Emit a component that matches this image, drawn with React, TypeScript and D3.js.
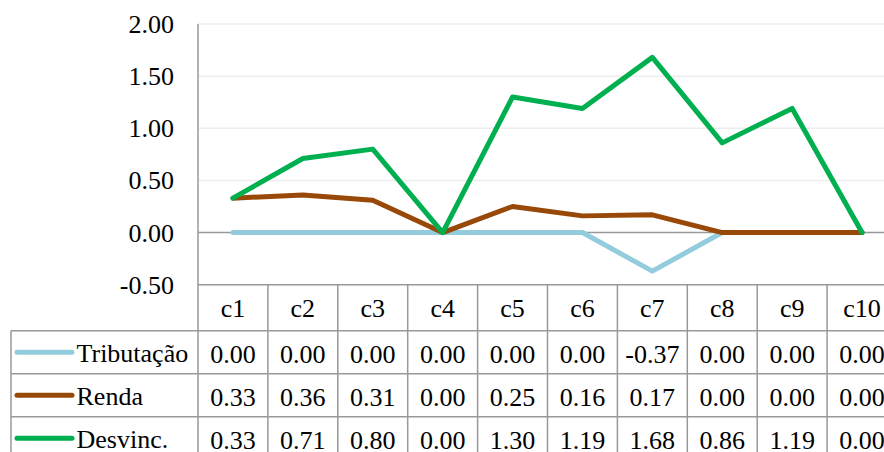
import React from "react";
import * as d3 from "d3";

const categories = ["c1", "c2", "c3", "c4", "c5", "c6", "c7", "c8", "c9", "c10"];
const seriesNames = ["Tributação", "Renda", "Desvinc."];
const tributacao = [0.0, 0.0, 0.0, 0.0, 0.0, 0.0, -0.37, 0.0, 0.0, 0.0];
const renda = [0.33, 0.36, 0.31, 0.0, 0.25, 0.16, 0.17, 0.0, 0.0, 0.0];
const desvinc = [0.33, 0.71, 0.8, 0.0, 1.3, 1.19, 1.68, 0.86, 1.19, 0.0];
const yTicks = [-0.5, 0, 0.5, 1, 1.5, 2];
const colors = ["#93CDDD", "#984807", "#00B050"];

const W = 884;
const H = 452;
const plotLeft = 198;
const plotRight = 897;
const plotTop = 24;
const plotBottom = 284.7;
const rowH = 43;
const headerBottom = 330.7;
const legendLeft = 11;
const FS = 26;
const borderColor = "#999999";
const cssText =
  'svg.chart text { font-family: "Liberation Serif", "Times New Roman", Tinos, Times, "DejaVu Serif", serif !important; font-size: 26px; fill: #000; }';

const fmt = (v: number) => d3.format(".2f")(v).replace("\u2212", "-");

export default function App() {
  const series = [tributacao, renda, desvinc];
  const x = d3.scaleBand<string>().domain(categories).range([plotLeft, plotRight]);
  const y = d3.scaleLinear().domain([-0.5, 2]).range([plotBottom, plotTop]);
  const cx = (c: string) => (x(c) as number) + x.bandwidth() / 2;
  const line = d3
    .line<number>()
    .x((_, i) => cx(categories[i]))
    .y((d) => y(d));
  const rowTops = [headerBottom, headerBottom + rowH, headerBottom + 2 * rowH];

  return (
    <svg className="chart" width={W} height={H} style={{ position: "absolute", left: 0, top: 0, background: "#fff" }}>
      <style>{cssText}</style>
      {yTicks
        .filter((t) => t > 0)
        .map((t) => (
          <line key={"g" + t} x1={plotLeft} x2={plotRight} y1={y(t)} y2={y(t)} stroke="#EDEDED" strokeWidth={1.5} />
        ))}
      {yTicks.map((t) => (
        <text key={"yt" + t} x={174} y={y(t) + 9} textAnchor="end" fontSize={FS}>
          {fmt(t)}
        </text>
      ))}
      <line x1={plotLeft} x2={plotRight} y1={y(0)} y2={y(0)} stroke={borderColor} strokeWidth={1.5} />
      <line x1={plotLeft} x2={plotRight} y1={plotBottom} y2={plotBottom} stroke={borderColor} strokeWidth={1.5} />
      <line x1={legendLeft} x2={plotRight} y1={headerBottom} y2={headerBottom} stroke={borderColor} strokeWidth={1.5} />
      {rowTops.slice(1).map((ry, i) => (
        <line key={"rl" + i} x1={legendLeft} x2={plotRight} y1={ry} y2={ry} stroke={borderColor} strokeWidth={1.5} />
      ))}
      <line x1={legendLeft} x2={legendLeft} y1={headerBottom} y2={H} stroke={borderColor} strokeWidth={1.5} />
      <line x1={plotLeft} x2={plotLeft} y1={plotTop} y2={H} stroke={borderColor} strokeWidth={1.5} />
      {categories.map((c) => (
        <line
          key={"vl" + c}
          x1={(x(c) as number) + x.bandwidth()}
          x2={(x(c) as number) + x.bandwidth()}
          y1={plotBottom}
          y2={H}
          stroke={borderColor}
          strokeWidth={1.5}
        />
      ))}
      {categories.map((c) => (
        <text key={"h" + c} x={cx(c)} y={(plotBottom + headerBottom) / 2 + 9} textAnchor="middle" fontSize={FS}>
          {c}
        </text>
      ))}
      {series.map((vals, si) => (
        <g key={"row" + si}>
          <line
            x1={17}
            x2={72}
            y1={rowTops[si] + rowH / 2}
            y2={rowTops[si] + rowH / 2}
            stroke={colors[si]}
            strokeWidth={5}
            strokeLinecap="round"
          />
          <text x={76.5} y={rowTops[si] + rowH / 2 + 10} fontSize={FS}>
            {seriesNames[si]}
          </text>
          {vals.map((v, i) => (
            <text key={i} x={cx(categories[i])} y={rowTops[si] + rowH / 2 + 10.5} textAnchor="middle" fontSize={FS}>
              {fmt(v)}
            </text>
          ))}
        </g>
      ))}
      {series.map((vals, si) => (
        <path
          key={"s" + si}
          d={line(vals) as string}
          fill="none"
          stroke={colors[si]}
          strokeWidth={5}
          strokeLinejoin="round"
          strokeLinecap="round"
        />
      ))}
    </svg>
  );
}
